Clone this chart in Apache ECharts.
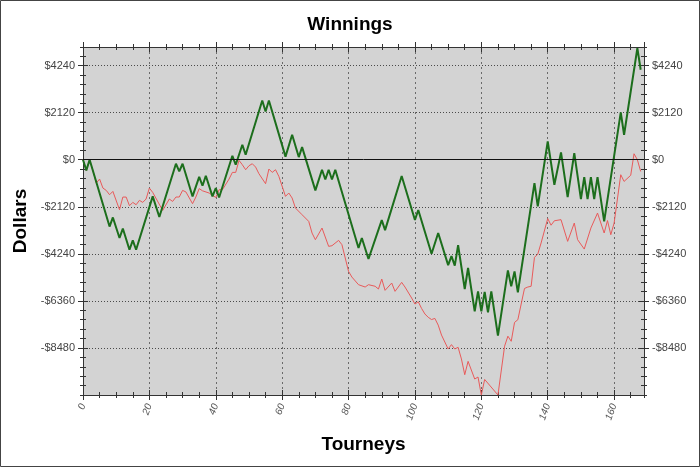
<!DOCTYPE html>
<html><head><meta charset="utf-8">
<script src="https://cdn.jsdelivr.net/npm/echarts@6/dist/echarts.min.js"></script>
<style>html,body{margin:0;padding:0;background:#fff}#c{width:700px;height:467px}</style>
</head><body><div id="c"></div>
<script>
const title = 'Winnings';
const xName = 'Tourneys';
const yName = 'Dollars';
const xTicks = [0, 20, 40, 60, 80, 100, 120, 140, 160];
const yTicks = [-8480, -6360, -4240, -2120, 0, 2120, 4240];

const greenT = [0,1,2,8,9,11,12,14,15,16,21,23,28,29,30,33,35,36,37,39,40,41,45,46,48,49,54,55,56,61,63,65,66,70,72,73,74,75,76,83,84,86,90,91,96,100,101,105,107,110,111,112,113,115,116,118,119,120,121,122,123,125,128,129,130,131,136,137,140,142,144,146,148,150,151,152,153,154,155,157,162,163,167,168];
const greenV = [0,-480,0,-3010,-2600,-3527,-3100,-4054,-3633,-4054,-1650,-2581,-180,-527,-180,-1653,-770,-1171,-720,-1650,-1275,-1700,180,-225,676,225,2672,2176,2672,140,1126,120,570,-1382,-450,-890,-450,-890,-450,-3978,-3527,-4474,-2720,-3170,-735,-2717,-2267,-4234,-3303,-4750,-4340,-4774,-3850,-5825,-4878,-6832,-5930,-6832,-5950,-6877,-5930,-7927,-4985,-5706,-5030,-5976,-1050,-2102,824,-1126,330,-1680,300,-1770,-780,-1770,-780,-1770,-780,-2780,2130,1126,5031,4054];

const redT = [0,1,2,3,4,5,6,7,8,9,11,12,13,14,15,16,17,18,19,20,21,24,26,27,28,29,30,31,33,34,35,36,38,40,41,42,44,45,46,47,48,49,50,51,52,53,55,56,57,58,59,61,62,63,64,66,68,69,70,72,74,75,77,78,80,81,83,85,86,88,89,90,91,93,94,96,97,99,100,101,102,103,104,105,106,107,108,110,111,112,113,114,115,116,118,119,120,121,125,127,128,129,130,131,132,133,134,135,136,137,138,140,141,142,144,146,148,149,151,153,155,157,158,159,160,162,163,165,166,167,168];
const redV = [0,-480,0,-500,-1050,-870,-1276,-1381,-1576,-1426,-2252,-1681,-1681,-2072,-1921,-2027,-1830,-1921,-1770,-1275,-1472,-2282,-1770,-1878,-1680,-1680,-1381,-1450,-1980,-1680,-1300,-1400,-1500,-1700,-1351,-1351,-870,-570,-570,-30,-225,-450,-270,-180,-330,-630,-1080,-420,-570,-450,-750,-1650,-1500,-1725,-2176,-2477,-2777,-3303,-3603,-3077,-3903,-3873,-3633,-3828,-5030,-5285,-5630,-5735,-5630,-5700,-5825,-5375,-5885,-5555,-5930,-5525,-5735,-6230,-6500,-6400,-6700,-6950,-7100,-7200,-7150,-7450,-7900,-8527,-8330,-8527,-8450,-8977,-9685,-9084,-9880,-9790,-10600,-9900,-10600,-8400,-7950,-8180,-7330,-7207,-6500,-5800,-5735,-5700,-4400,-4250,-3750,-2650,-2950,-2750,-2700,-3678,-2852,-3603,-4024,-3077,-2402,-3300,-2740,-3378,-2852,-675,-977,-700,270,0,-527];

const X_MIN = 0, X_MAX = 169, Y_MIN = -10600, Y_MAX = 5080;
const X_MAJOR = 20, X_MINOR = 5, Y_MAJOR = 2120, Y_MINOR = 424;

const chart = echarts.init(document.getElementById('c'), null, {renderer: 'canvas'});
const fmtY = v => (v < 0 ? '-$' : '$') + Math.abs(v);
const FONT = '"Liberation Sans", Arial, sans-serif';
const AX = '#333';

// o: {pos, inside, major, labels, grid}
function xAxisDef(o) {
  return {
    type: 'value', position: o.pos, min: X_MIN, max: X_MAX, interval: o.major ? X_MAJOR : X_MINOR,
    axisLine: {show: true, onZero: false, lineStyle: {color: AX, width: 1}},
    axisTick: {show: true, inside: o.inside, length: o.major ? 5 : 3, lineStyle: {color: AX}},
    axisLabel: {show: !!o.labels, rotate: 70, color: '#555', fontSize: 10, fontStyle: 'italic', fontFamily: FONT, margin: 9,
      showMaxLabel: false, formatter: v => xTicks.includes(v) ? String(v) : ''},
    splitLine: {show: !!o.grid, lineStyle: {color: '#6a6a6a', type: [2, 3], width: 1}},
    name: o.labels ? xName : '', nameLocation: 'middle', nameGap: 40,
    nameTextStyle: {fontSize: 19, fontWeight: 'bold', color: '#000', fontFamily: FONT}
  };
}
function yAxisDef(o) {
  return {
    type: 'value', position: o.pos, min: Y_MIN, max: Y_MAX, interval: o.major ? Y_MAJOR : Y_MINOR,
    axisLine: {show: true, onZero: false, lineStyle: {color: AX, width: 1}},
    axisTick: {show: true, inside: o.inside, length: o.major ? 5 : 3, lineStyle: {color: AX}},
    axisLabel: {show: !!o.labels, color: '#444', fontSize: 11, fontFamily: FONT, margin: 8,
      showMinLabel: false, showMaxLabel: false,
      formatter: v => yTicks.includes(v) ? fmtY(v) : ''},
    splitLine: {show: !!o.grid, lineStyle: {color: '#4a4a4a', type: [1, 2], width: 1}},
    name: o.named ? yName : '', nameLocation: 'middle', nameGap: 52, nameRotate: 90,
    nameTextStyle: {fontSize: 19, fontWeight: 'bold', color: '#000', fontFamily: FONT}
  };
}

const xAxes = [];
const yAxes = [];
['bottom', 'top'].forEach(pos => {
  [true, false].forEach(major => {
    [false, true].forEach(inside => {
      xAxes.push(xAxisDef({pos, inside, major, labels: pos === 'bottom' && major && !inside, grid: pos === 'bottom' && major && !inside}));
    });
  });
});
['left', 'right'].forEach(pos => {
  [true, false].forEach(major => {
    [false, true].forEach(inside => {
      yAxes.push(yAxisDef({pos, inside, major, labels: major && !inside, grid: pos === 'left' && major && !inside, named: pos === 'left' && major && !inside}));
    });
  });
});

const zip = (a, b) => a.map((t, i) => [t, b[i]]);

chart.setOption({
  animation: false,
  backgroundColor: '#fff',
  title: {text: title, left: 'center', top: 10,
    textStyle: {fontSize: 19, fontWeight: 'bold', color: '#000', fontFamily: FONT}},
  grid: {left: 83, right: 56, top: 47, bottom: 72, show: true, backgroundColor: '#d3d3d3', borderWidth: 0},
  xAxis: xAxes,
  yAxis: yAxes,
  graphic: [{type: 'rect', shape: {x: 0.5, y: 0.5, width: 699, height: 466},
    style: {fill: 'none', stroke: '#444', lineWidth: 1}, silent: true}],
  series: [
    {type: 'line', name: 'red', data: zip(redT, redV), showSymbol: false, symbol: 'none',
      lineStyle: {color: '#e85a5a', width: 1}, z: 3,
      markLine: {silent: true, symbol: 'none', label: {show: false},
        lineStyle: {color: '#111', type: 'solid', width: 1}, data: [{yAxis: 0}]}},
    {type: 'line', name: 'green', data: zip(greenT, greenV), showSymbol: false, symbol: 'none',
      lineStyle: {color: '#1c6e1c', width: 2}, z: 4}
  ]
});
</script></body></html>
